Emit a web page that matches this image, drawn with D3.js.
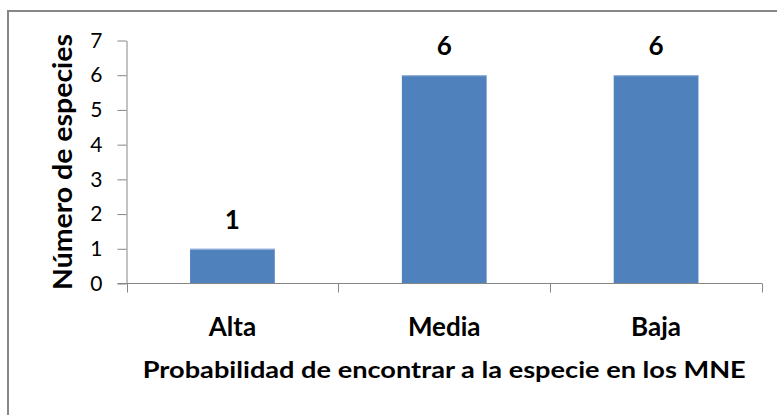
<!DOCTYPE html>
<html>
<head>
<meta charset="utf-8">
<script src="https://cdn.jsdelivr.net/npm/d3@7"></script>
<style>
  body { margin: 0; background: white; }
  svg { display: block; }
</style>
</head>
<body>
<script>
// values
const categories = ["Alta", "Media", "Baja"]
const counts = [1, 6, 6]
const yTicks = [0, 1, 2, 3, 4, 5, 6, 7]
const xTitle = "Probabilidad de encontrar a la especie en los MNE"
const yTitle = "Número de especies"

const width = 777
const height = 415
const font = "Lato, 'Open Sans', sans-serif"
const axisColor = "#868686"

const plot = {left: 126.5, right: 762, top: 40.5, bottom: 283.5}

const svg = d3.select("body").append("svg")
    .attr("width", width)
    .attr("height", height)

// chart frame (only top and left edges fall inside the picture)
svg.append("rect")
    .attr("x", 8).attr("y", 11)
    .attr("width", 900).attr("height", 600)
    .attr("fill", "white")
    .attr("stroke", "#878787")
    .attr("stroke-width", 2)

const x = d3.scaleBand()
    .domain(categories)
    .range([plot.left, plot.right])
    .paddingInner(0.6)
    .paddingOuter(0.3)

const y = d3.scaleLinear()
    .domain([0, 7])
    .range([plot.bottom, plot.top])

// bars
svg.selectAll("rect.bar")
    .data(categories)
    .join("rect")
    .attr("class", "bar")
    .attr("x", d => x(d))
    .attr("y", (d, i) => y(counts[i]))
    .attr("width", x.bandwidth())
    .attr("height", (d, i) => y(0) - y(counts[i]))
    .attr("fill", "#4F81BD")

// light top edge like the office style bars
svg.selectAll("line.edge")
    .data(categories)
    .join("line")
    .attr("class", "edge")
    .attr("x1", d => x(d)).attr("x2", d => x(d) + x.bandwidth())
    .attr("y1", (d, i) => y(counts[i]) + 0.5).attr("y2", (d, i) => y(counts[i]) + 0.5)
    .attr("stroke", "#9DB9DE")
    .attr("stroke-width", 1)

// data labels
svg.selectAll("text.val")
    .data(categories)
    .join("text")
    .attr("class", "val")
    .attr("x", d => x(d) + x.bandwidth() / 2)
    .attr("y", (d, i) => y(counts[i]) - 20)
    .attr("text-anchor", "middle")
    .style("font-family", font)
    .style("font-weight", "bold")
    .style("font-size", "26px")
    .text((d, i) => counts[i])

// y axis
const yAxis = svg.append("g")
    .attr("transform", `translate(${plot.left},0)`)
    .call(d3.axisLeft(y).tickValues(yTicks).tickFormat(d3.format("d"))
        .tickSize(9).tickPadding(15).tickSizeOuter(0))
yAxis.select(".domain").attr("stroke", axisColor)
yAxis.selectAll(".tick line").attr("stroke", axisColor)
yAxis.selectAll(".tick text")
    .attr("fill", "black")
    .style("font-family", font)
    .style("font-size", "21px")

// x axis line with ticks at category boundaries
svg.append("line")
    .attr("x1", plot.left - 9).attr("x2", plot.right)
    .attr("y1", plot.bottom).attr("y2", plot.bottom)
    .attr("stroke", axisColor)

const step = x.step()
const bounds = d3.range(categories.length + 1).map(i => plot.left + i * step)
svg.selectAll("line.xtick")
    .data(bounds)
    .join("line")
    .attr("class", "xtick")
    .attr("x1", d => Math.round(d) + 0.5).attr("x2", d => Math.round(d) + 0.5)
    .attr("y1", plot.bottom).attr("y2", plot.bottom + 9)
    .attr("stroke", axisColor)

svg.selectAll("text.cat")
    .data(categories)
    .join("text")
    .attr("class", "cat")
    .attr("x", d => x(d) + x.bandwidth() / 2)
    .attr("y", 335.7)
    .attr("text-anchor", "middle")
    .style("font-family", font)
    .style("font-weight", "bold")
    .style("font-size", "26px")
    .text(d => d)

// axis titles
svg.append("text")
    .attr("x", (plot.left + plot.right) / 2)
    .attr("y", 377.7)
    .attr("text-anchor", "middle")
    .attr("textLength", 603)
    .attr("lengthAdjust", "spacingAndGlyphs")
    .style("font-family", font)
    .style("font-weight", "bold")
    .style("font-size", "22px")
    .text(xTitle)

svg.append("text")
    .attr("transform", `translate(72,${(plot.top + plot.bottom) / 2}) rotate(-90)`)
    .attr("text-anchor", "middle")
    .attr("textLength", 256)
    .attr("lengthAdjust", "spacingAndGlyphs")
    .style("font-family", font)
    .style("font-weight", "bold")
    .style("font-size", "26px")
    .text(yTitle)
</script>
</body>
</html>
